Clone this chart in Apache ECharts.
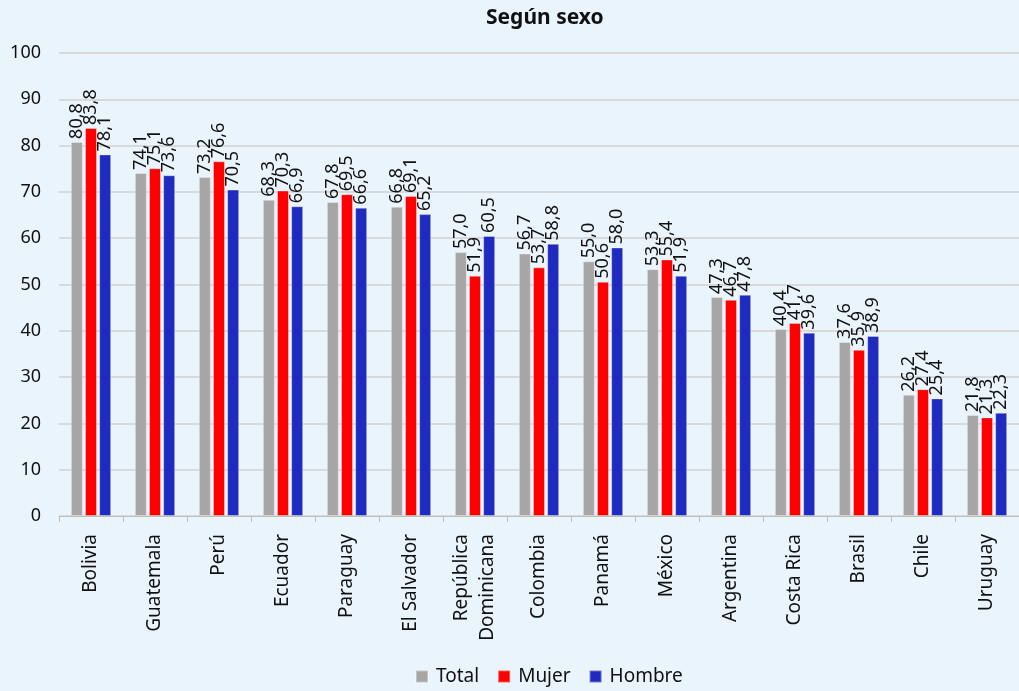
<!DOCTYPE html>
<html>
<head>
<meta charset="utf-8">
<script src="https://cdn.jsdelivr.net/npm/echarts@6/dist/echarts.min.js"></script>
<style>
  html, body { margin: 0; padding: 0; background: #EAF4FD; }
  #chart { width: 1019px; height: 691px; }
</style>
</head>
<body>
<div id="chart"></div>
<script>
// Values (comma decimals in the labels)
const countries = ['Bolivia', 'Guatemala', 'Perú', 'Ecuador', 'Paraguay', 'El Salvador', 'República\nDominicana',
  'Colombia', 'Panamá', 'México', 'Argentina', 'Costa Rica', 'Brasil', 'Chile', 'Uruguay'];
const total = [80.8, 74.1, 73.2, 68.3, 67.8, 66.8, 57.0, 56.7, 55.0, 53.3, 47.3, 40.4, 37.6, 26.2, 21.8];
const mujer = [83.8, 75.1, 76.6, 70.3, 69.5, 69.1, 51.9, 53.7, 50.6, 55.4, 46.7, 41.7, 35.9, 27.4, 21.3];
const hombre = [78.1, 73.6, 70.5, 66.9, 66.6, 65.2, 60.5, 58.8, 58.0, 51.9, 47.8, 39.6, 38.9, 25.4, 22.3];
const yTicks = [0, 10, 20, 30, 40, 50, 60, 70, 80, 90, 100];

const font = 'Noto Sans';
const fmt = (p) => p.value.toFixed(1).replace('.', ',');

const mk = (name, data, color) => ({
  name, type: 'bar', data,
  barWidth: 12, barGap: '18%',
  itemStyle: { color, borderColor: 'rgba(255,255,255,0.35)', borderWidth: 1 },
  label: {
    show: true, position: 'top', rotate: 90, align: 'left', verticalAlign: 'middle',
    distance: 3, formatter: fmt, fontFamily: font, fontSize: 18, color: '#111',
  },
});

const chart = echarts.init(document.getElementById('chart'));
chart.setOption({
  animation: false,
  backgroundColor: '#EAF4FD',
  textStyle: { fontFamily: font },
  title: {
    text: 'Según sexo', left: 481, top: 3,
    textStyle: { fontFamily: font, fontSize: 21, fontWeight: 'bold', color: '#111' },
  },
  // legend sits centred under the plot area, not the whole canvas
  legend: {
    bottom: 0, left: 410, itemWidth: 12, itemHeight: 12, itemGap: 18,
    icon: 'rect', textStyle: { fontFamily: font, fontSize: 19, color: '#111', padding: [0, 0, 0, 3] },
  },
  grid: { left: 59, right: 0, top: 53, bottom: 175, containLabel: false },
  xAxis: {
    type: 'category', data: countries,
    axisLine: { lineStyle: { color: '#BFBFBF' } },
    axisTick: { show: true, length: 6, lineStyle: { color: '#BFBFBF' } },
    axisLabel: { rotate: 90, fontFamily: font, fontSize: 19, color: '#111', margin: 18, lineHeight: 26, interval: 0 },
  },
  yAxis: {
    type: 'value', min: yTicks[0], max: yTicks[yTicks.length - 1], interval: 10,
    axisLine: { show: false }, axisTick: { show: false },
    axisLabel: { fontFamily: font, fontSize: 18, color: '#111', margin: 18 },
    splitLine: { lineStyle: { color: '#D9D9D9', width: 2 } },
  },
  series: [
    mk('Total', total, '#A6A6A6'),
    mk('Mujer', mujer, '#FF0000'),
    mk('Hombre', hombre, '#1F2BBF'),
  ],
});
</script>
</body>
</html>
